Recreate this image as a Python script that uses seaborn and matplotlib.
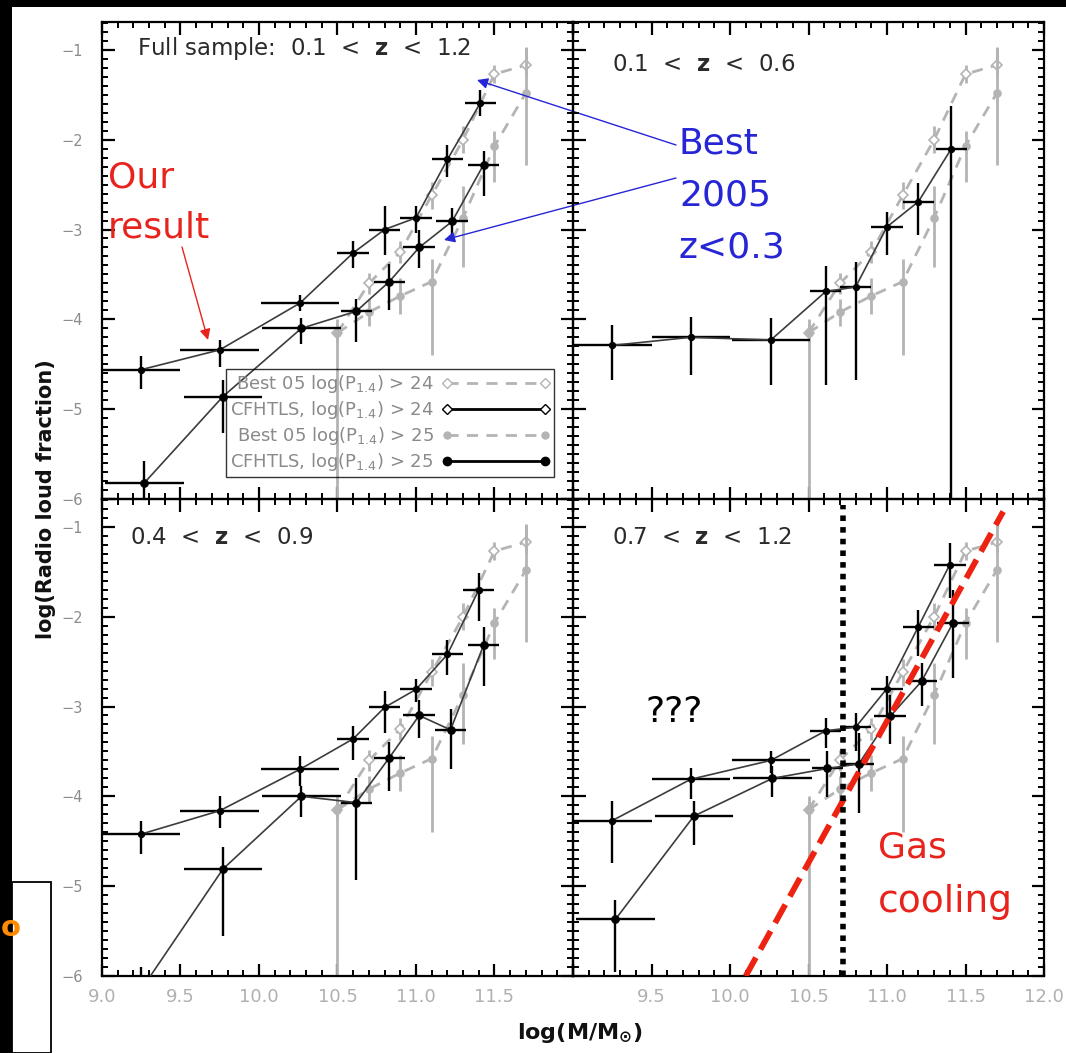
import numpy as np
import pandas as pd
import matplotlib
matplotlib.use("Agg")
import matplotlib.pyplot as plt
from matplotlib.lines import Line2D
from matplotlib.patches import Rectangle
from matplotlib.ticker import MultipleLocator, FuncFormatter
import seaborn as sns

# ---------------------------------------------------------------- data
# Best et al. 2005 (z<0.3) reference, identical in every panel
best_mass = [10.5, 10.7, 10.9, 11.1, 11.3, 11.5, 11.7]
best24_frac = [-4.15, -3.60, -3.25, -2.62, -2.00, -1.27, -1.17]
best24_err_lo = [0.10, 0.12, 0.12, 0.15, 0.15, 0.10, 0.12]
best24_err_hi = [0.10, 0.12, 0.12, 0.15, 0.15, 0.10, 0.20]
best25_frac = [-4.15, -3.92, -3.74, -3.58, -2.87, -2.07, -1.48]
best25_err_lo = [1.85, 0.15, 0.20, 0.82, 0.55, 0.40, 0.80]
best25_err_hi = [0.15, 0.15, 0.20, 0.25, 0.35, 0.17, 0.50]

# half widths of the stellar-mass bins (horizontal error bars)
bin_halfwidth = [0.25, 0.25, 0.25, 0.10, 0.10, 0.10, 0.10, 0.10]

# Full sample: 0.1 < z < 1.2
full_m24 = [9.25, 9.75, 10.26, 10.60, 10.80, 11.00, 11.20, 11.41]
full_f24 = [-4.56, -4.34, -3.82, -3.26, -3.00, -2.87, -2.22, -1.59]
full_lo24 = [0.21, 0.19, 0.09, 0.17, 0.28, 0.17, 0.19, 0.15]
full_hi24 = [0.15, 0.11, 0.09, 0.13, 0.26, 0.13, 0.16, 0.14]
full_m25 = [9.27, 9.77, 10.27, 10.62, 10.83, 11.02, 11.23, 11.43]
full_f25 = [-5.82, -4.86, -4.10, -3.91, -3.58, -3.20, -2.91, -2.28]
full_lo25 = [0.17, 0.41, 0.17, 0.34, 0.32, 0.23, 0.15, 0.35]
full_hi25 = [0.24, 0.19, 0.11, 0.14, 0.20, 0.20, 0.15, 0.15]

# 0.1 < z < 0.6
lowz_m24 = [9.25, 9.75, 10.26, 10.61, 10.80, 11.00, 11.20, 11.41]
lowz_f24 = [-4.29, -4.20, -4.23, -3.69, -3.64, -2.97, -2.69, -2.10]
lowz_lo24 = [0.38, 0.42, 0.50, 1.04, 1.03, 0.31, 0.37, 3.95]
lowz_hi24 = [0.23, 0.23, 0.24, 0.28, 0.28, 0.17, 0.21, 0.47]

# 0.4 < z < 0.9
midz_m24 = [9.25, 9.75, 10.26, 10.60, 10.80, 11.00, 11.20, 11.40]
midz_f24 = [-4.42, -4.16, -3.70, -3.36, -3.01, -2.81, -2.42, -1.70]
midz_lo24 = [0.22, 0.19, 0.18, 0.23, 0.29, 0.14, 0.23, 0.35]
midz_hi24 = [0.15, 0.16, 0.15, 0.14, 0.18, 0.12, 0.16, 0.19]
midz_m25 = [9.25, 9.77, 10.27, 10.62, 10.83, 11.02, 11.22, 11.43]
midz_f25 = [-6.15, -4.81, -4.00, -4.07, -3.57, -3.10, -3.26, -2.32]
midz_lo25 = [0.30, 0.74, 0.23, 0.86, 0.37, 0.25, 0.44, 0.45]
midz_hi25 = [0.25, 0.25, 0.12, 0.27, 0.18, 0.17, 0.23, 0.21]

# 0.7 < z < 1.2
highz_m24 = [9.25, 9.75, 10.26, 10.61, 10.80, 11.00, 11.20, 11.40]
highz_f24 = [-4.27, -3.81, -3.60, -3.27, -3.23, -2.80, -2.11, -1.42]
highz_lo24 = [0.47, 0.22, 0.14, 0.19, 0.27, 0.29, 0.33, 0.37]
highz_hi24 = [0.22, 0.13, 0.10, 0.14, 0.16, 0.14, 0.18, 0.24]
highz_m25 = [9.27, 9.77, 10.27, 10.62, 10.82, 11.02, 11.22, 11.42]
highz_f25 = [-5.37, -4.22, -3.80, -3.69, -3.64, -3.11, -2.72, -2.07]
highz_lo25 = [0.59, 0.32, 0.21, 0.32, 0.55, 0.31, 0.27, 0.61]
highz_hi25 = [0.22, 0.17, 0.14, 0.19, 0.35, 0.24, 0.20, 0.37]

# gas-cooling line and mass threshold (bottom-right panel)
cooling_mass = [10.10, 11.74]
cooling_frac = [-6.0, -0.83]
threshold_mass = 10.72
threshold_frac = [-6.0, -0.76]

panel_titles = ["Full sample:  0.1  <  $\\mathbf{z}$  <  1.2",
                "0.1  <  $\\mathbf{z}$  <  0.6",
                "0.4  <  $\\mathbf{z}$  <  0.9",
                "0.7  <  $\\mathbf{z}$  <  1.2"]
legend_labels = ["Best 05 log(P$_{1.4}$) > 24",
                 "CFHTLS, log(P$_{1.4}$) > 24",
                 "Best 05 log(P$_{1.4}$) > 25",
                 "CFHTLS, log(P$_{1.4}$) > 25"]

# ---------------------------------------------------------------- style
sns.set_theme(style="white")
plt.rcParams["font.family"] = ["DejaVu Sans"]
plt.rcParams["mathtext.fontset"] = "dejavusans"

W, H = 1066, 1053
fig = plt.figure(figsize=(W / 100, H / 100), dpi=100)
fig.patch.set_facecolor("white")


def fx(x):
    return x / W


def fy(y):
    return 1 - y / H


GREY = "#b4b4b4"
LINE = "#3c3c3c"

# frame decoration (black strips)
fig.add_artist(Rectangle((0, fy(7)), 1, 7 / H, transform=fig.transFigure,
                         facecolor="black", edgecolor="none", zorder=-5))
fig.add_artist(Rectangle((0, 0), fx(12), 1, transform=fig.transFigure,
                         facecolor="black", edgecolor="none", zorder=-5))

x0s = [102, 573]
y1s = [499, 976]
axes = {}
for r in range(2):
    for c in range(2):
        axes[(r, c)] = fig.add_axes([fx(x0s[c]), fy(y1s[r]), 471 / W, 477 / H])


def style_axis(ax, r, c):
    ax.set_facecolor("none")
    ax.set_xlim(9.0, 12.0)
    ax.set_ylim(-6.0, -0.69)
    ax.xaxis.set_major_locator(MultipleLocator(0.5))
    ax.xaxis.set_minor_locator(MultipleLocator(0.1))
    ax.yaxis.set_major_locator(MultipleLocator(1))
    ax.yaxis.set_minor_locator(MultipleLocator(0.1))
    ax.tick_params(which="both", direction="in", top=True, right=True,
                   bottom=True, left=True, color="black")
    ax.tick_params(which="major", length=9, width=1.6)
    ax.tick_params(which="minor", length=4, width=1.4)
    ax.tick_params(axis="y", labelsize=10.5, labelcolor="#8c8c8c", pad=14)
    ax.tick_params(axis="x", labelsize=13, labelcolor="#b0b0b0", pad=9)
    for s in ax.spines.values():
        s.set_color("black")
        s.set_linewidth(1.6)
    ax.set_xlabel("")
    ax.set_ylabel("")
    if c == 1:
        ax.tick_params(axis="y", labelleft=False)
    else:
        ax.yaxis.set_major_formatter(FuncFormatter(lambda v, p: "\u2212%d" % abs(round(v))))
    if r == 0:
        ax.tick_params(axis="x", labelbottom=False)
    else:
        if c == 0:
            ax.xaxis.set_major_formatter(FuncFormatter(
                lambda v, p: "" if v > 11.9 else "%.1f" % v))
        else:
            ax.xaxis.set_major_formatter(FuncFormatter(
                lambda v, p: "" if v < 9.1 else "%.1f" % v))


def draw_best(ax):
    for frac, lo, hi, mk, mfc in [(best24_frac, best24_err_lo, best24_err_hi, "D", "white"),
                                  (best25_frac, best25_err_lo, best25_err_hi, "o", GREY)]:
        ax.errorbar(best_mass, frac, yerr=[lo, hi], fmt="none", ecolor=GREY,
                    elinewidth=2.0, capsize=0, zorder=2)
        df = pd.DataFrame({"m": best_mass, "f": frac})
        sns.lineplot(data=df, x="m", y="f", ax=ax, estimator=None, sort=False,
                     color=GREY, linestyle=(0, (4, 3)), linewidth=2.0,
                     marker=mk, markersize=5, markerfacecolor=mfc,
                     markeredgecolor=GREY, markeredgewidth=1.2, zorder=2)


def draw_cfhtls(ax, m, f, lo, hi, mk, ms):
    ax.errorbar(m, f, yerr=[lo, hi], xerr=bin_halfwidth, fmt="none",
                ecolor="black", elinewidth=1.7, capsize=0, zorder=3)
    df = pd.DataFrame({"m": m, "f": f})
    sns.lineplot(data=df, x="m", y="f", ax=ax, estimator=None, sort=False,
                 color=LINE, linewidth=1.2, marker=mk, markersize=ms,
                 markerfacecolor="black", markeredgecolor="black", zorder=4)


panels = {
    (0, 0): [(full_m24, full_f24, full_lo24, full_hi24, "o", 4.5),
             (full_m25, full_f25, full_lo25, full_hi25, "o", 5.5)],
    (0, 1): [(lowz_m24, lowz_f24, lowz_lo24, lowz_hi24, "o", 4.5)],
    (1, 0): [(midz_m24, midz_f24, midz_lo24, midz_hi24, "o", 4.5),
             (midz_m25, midz_f25, midz_lo25, midz_hi25, "o", 5.5)],
    (1, 1): [(highz_m24, highz_f24, highz_lo24, highz_hi24, "o", 4.5),
             (highz_m25, highz_f25, highz_lo25, highz_hi25, "o", 5.5)],
}

title_pos = {(0, 0): (0.074, 0.945), (0, 1): (0.083, 0.91),
             (1, 0): (0.060, 0.92), (1, 1): (0.083, 0.92)}

for i, key in enumerate([(0, 0), (0, 1), (1, 0), (1, 1)]):
    ax = axes[key]
    draw_best(ax)
    for m, f, lo, hi, mk, ms in panels[key]:
        draw_cfhtls(ax, m, f, lo, hi, mk, ms)
    style_axis(ax, *key)
    ax.text(title_pos[key][0], title_pos[key][1], panel_titles[i],
            transform=ax.transAxes, fontsize=16.5, color="#2a2a2a",
            ha="left", va="center", zorder=6)

# gas cooling and threshold lines in bottom-right panel
axr = axes[(1, 1)]
sns.lineplot(x=cooling_mass, y=cooling_frac, ax=axr, estimator=None, sort=False,
             color="#ee2211", linewidth=4.2, linestyle=(0, (3.6, 1.6)), zorder=5)
sns.lineplot(x=[threshold_mass, threshold_mass], y=threshold_frac, ax=axr,
             estimator=None, sort=False, color="black", linewidth=4.0,
             linestyle=(0, (1, 1.1)), zorder=5)
axr.set_xlabel("")
axr.set_ylabel("")

# legend in top-left panel
ax0 = axes[(0, 0)]
handles = [
    Line2D([0], [0], color=GREY, ls=(0, (4, 3)), lw=2, marker="D", ms=5,
           mfc="white", mec=GREY),
    Line2D([0], [0], color="black", lw=2, marker="D", ms=5, mfc="white", mec="black"),
    Line2D([0], [0], color=GREY, ls=(0, (4, 3)), lw=2, marker="o", ms=5,
           mfc=GREY, mec=GREY),
    Line2D([0], [0], color="black", lw=2, marker="o", ms=6, mfc="black", mec="black"),
]
leg = ax0.legend(handles, legend_labels, loc="lower left",
                 bbox_to_anchor=(0.263, 0.046), borderaxespad=0,
                 markerfirst=False, numpoints=2, handlelength=6.0,
                 fontsize=13, labelcolor="#8a8a8a", frameon=True,
                 fancybox=False, edgecolor="black", borderpad=0.22,
                 labelspacing=0.22, handletextpad=0.45)
leg.get_frame().set_facecolor("none")
leg.get_frame().set_linewidth(1.0)
leg.set_zorder(7)

# axis labels
fig.text(fx(46), fy(499), "log(Radio loud fraction)", rotation=90,
         ha="center", va="center", fontsize=15, fontweight="bold", color="#111111")
fig.text(fx(580), fy(1033), "log(M/M$_{\\mathbf{\\odot}}$)", ha="center", va="center",
         fontsize=16, fontweight="bold", color="#111111")

# annotations
RED = "#e8231c"
BLUE = "#2626d6"
FS = 26
fig.text(fx(108), fy(188), "Our", color=RED, fontsize=FS, ha="left", va="baseline")
fig.text(fx(108), fy(238), "result", color=RED, fontsize=FS, ha="left", va="baseline")
fig.text(fx(679), fy(154), "Best", color=BLUE, fontsize=FS, ha="left", va="baseline")
fig.text(fx(679), fy(206), "2005", color=BLUE, fontsize=FS, ha="left", va="baseline")
fig.text(fx(679), fy(258), "z<0.3", color=BLUE, fontsize=FS, ha="left", va="baseline")
fig.text(fx(645), fy(722), "???", color="black", fontsize=FS, ha="left", va="baseline")
fig.text(fx(878), fy(857), "Gas", color=RED, fontsize=FS, ha="left", va="baseline")
fig.text(fx(878), fy(912), "cooling", color=RED, fontsize=27, ha="left", va="baseline")

arrows = [((182, 247), (208, 340), RED),
          ((676, 145), (477, 80), BLUE),
          ((676, 178), (444, 240), BLUE)]
for (xa, ya), (xb, yb), col in arrows:
    ax0.annotate("", xy=(fx(xb), fy(yb)), xytext=(fx(xa), fy(ya)),
                 xycoords="figure fraction", textcoords="figure fraction",
                 arrowprops=dict(arrowstyle="-|>", color=col, lw=1.0,
                                 mutation_scale=16, shrinkA=0, shrinkB=0),
                 annotation_clip=False, zorder=8)

# bottom-left white box with orange letter
fig.add_artist(Rectangle((fx(12), 0), fx(51) - fx(12), fy(882), transform=fig.transFigure,
                         facecolor="white", edgecolor="black", linewidth=1.3, zorder=5))
fig.text(fx(1), fy(928), "o", color="#ff8c00", fontsize=21, fontweight="bold",
         ha="left", va="center", zorder=6)

fig.savefig("out.png", dpi=100, facecolor="white")
